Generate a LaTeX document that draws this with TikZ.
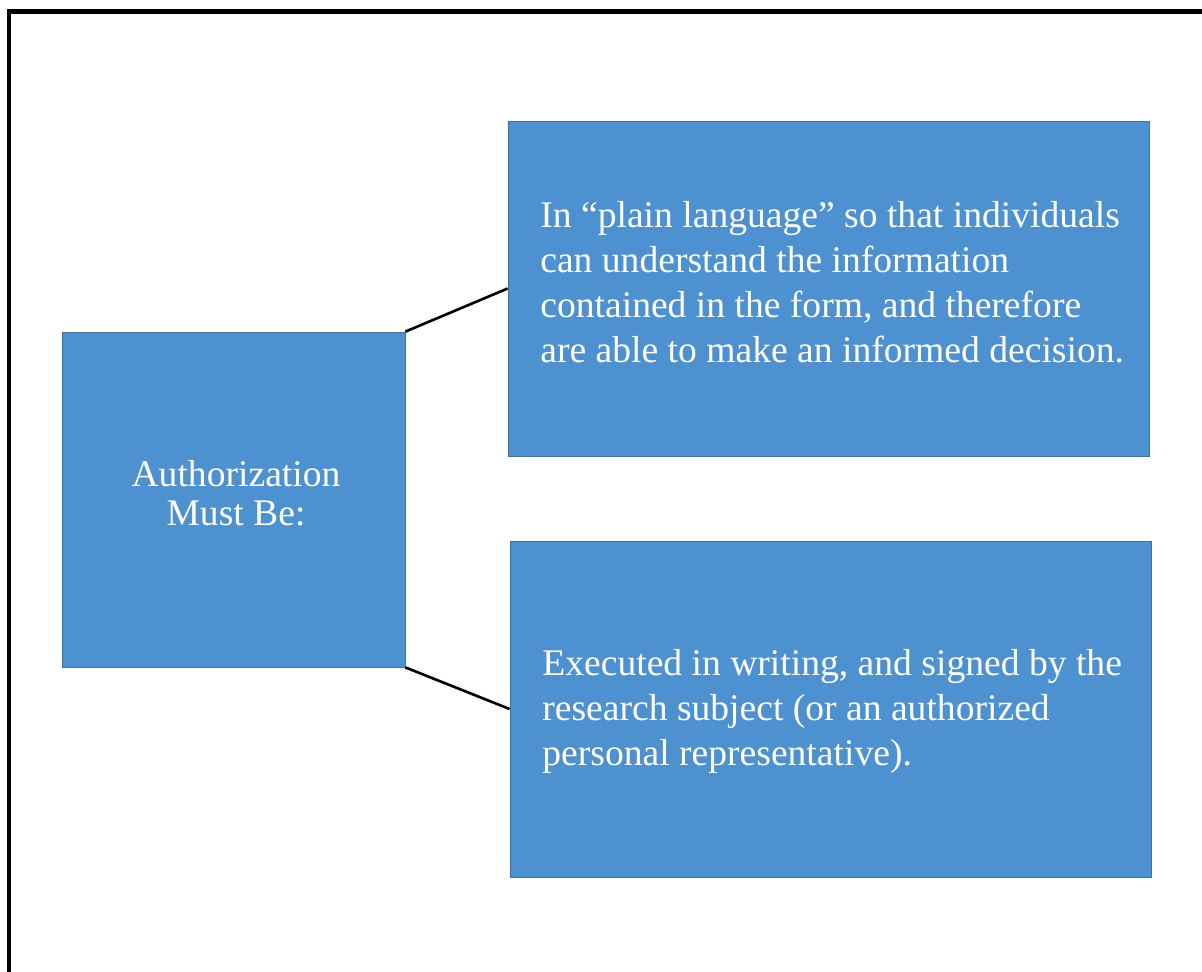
\documentclass[tikz,border=0pt]{standalone}
\usepackage{fontspec}
\setmainfont{Liberation Serif}
\usepackage{tikz}
\usetikzlibrary{positioning}

\definecolor{boxblue}{RGB}{78,145,208}
\definecolor{edgeblue}{RGB}{65,113,156}

\tikzset{
  box/.style={draw=edgeblue, line width=0.5pt, fill=boxblue, inner sep=0pt},
  txt/.style={text=white, inner sep=0pt, font=\fontsize{21.4}{25.6}\selectfont},
  link/.style={black, line width=1.5pt}
}

\begin{document}
\begin{tikzpicture}[x=0.02cm, y=-0.02cm]
                \useasboundingbox (0,0) rectangle (1202,971);
                \draw[black, line width=2.3pt] (9,1000) -- (9,11.5) -- (1230,11.5);

                \node[box, minimum width=6.86cm, minimum height=6.7cm]  (auth)  at (233.5,499.5) {};
                \node[box, minimum width=12.82cm, minimum height=6.7cm] (plain) at (828.5,288.5) {};
                \node[box, minimum width=12.82cm, minimum height=6.72cm] (exec) at (830.5,709)  {};

                % base = baseline of the last line
                \node[txt, align=center, anchor=base,
                      font=\fontsize{21.4}{22.2}\selectfont] (authtext) at (236,525)
                      {Authorization\\Must Be:};
                \node[txt, align=left, anchor=base west] (plaintext) at (540,362)
                      {In “plain language” so that individuals\\can understand the information\\contained in the form, and therefore\\are able to make an informed decision.};
                \node[txt, align=left, anchor=base west] (exectext) at (542,765)
                      {Executed in writing, and signed by the\\research subject (or an authorized\\personal representative).};

                \draw[link] (auth.north east) -- (plain.west);
                \draw[link] (auth.south east) -- (exec.west);
            \end{tikzpicture}
\end{document}
